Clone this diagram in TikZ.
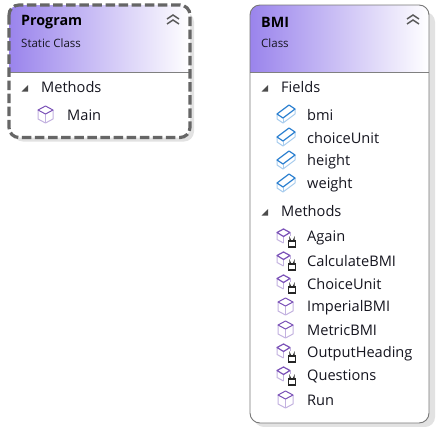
\documentclass[tikz,border=0pt]{standalone}
\usepackage{fontspec}
\setmainfont{Open Sans}
\definecolor{hdr}{HTML}{9A84EC}
\definecolor{txt}{HTML}{15151F}
\definecolor{bord}{HTML}{777777}
\definecolor{dashb}{HTML}{666666}
\definecolor{shad}{HTML}{E2E2E2}
\definecolor{mth}{HTML}{7B52B8}
\definecolor{mthl}{HTML}{C3B2E0}
\definecolor{fld}{HTML}{2A7FD0}
\definecolor{fldl}{HTML}{A9CDEE}
\tikzset{
  x=1pt,y=-1pt,
  title/.style={anchor=west,inner sep=0pt,font=\fontsize{14.3}{16}\selectfont\bfseries,text=black},
  subtitle/.style={anchor=west,inner sep=0pt,font=\fontsize{11.5}{14}\selectfont,text=txt},
  section/.style={anchor=west,inner sep=0pt,font=\fontsize{14.6}{16}\selectfont,text=txt},
  member/.style={anchor=west,inner sep=0pt,font=\fontsize{14.6}{16}\selectfont,text=txt},
  expander/.style={fill=black!70,draw=none},
  method/.pic={
    \draw[mthl,line width=1pt,line join=round] (-8,-5) -- (-8,4) -- (-.5,8) -- (7,4) -- (7,-5);
    \draw[mthl,line width=1pt] (-.5,-1) -- (-.5,8);
    \draw[mth,line width=1pt,line join=round] (-8,-5) -- (-.5,-9) -- (7,-5) -- (-.5,-1) -- cycle;
  },
  field/.pic={
    \draw[fldl,line width=1pt,line join=round] (-9,-1) -- (-9,4) -- (-3,8) -- (9,-1) -- (9,-6);
    \draw[fldl,line width=1pt] (-3,3) -- (-3,8);
    \draw[fld,line width=1.2pt,line join=round] (-9,-1) -- (3,-10) -- (9,-6) -- (-3,3) -- cycle;
  },
  privmethod/.pic={
    \draw[mthl,line width=1pt,line join=round] (-9,-5.5) -- (-9,1.5) -- (-2.5,5);
    \draw[mthl,line width=1pt] (-2.5,-1.5) -- (-2.5,5);
    \draw[mthl,line width=1pt] (4,-5.5) -- (4,-2);
    \draw[mth,line width=1.2pt,line join=round] (-9,-5.5) -- (-2.5,-9) -- (4,-5.5) -- (-2.5,-1.5) -- cycle;
    \draw[black!85,line width=1.1pt] (2.5,3) rectangle (9.5,9);
    \draw[black!85,line width=1.1pt] (4,3) -- (4,1) arc[start angle=180,end angle=0,radius=2] -- (8,3);
  },
  chev/.pic={
    \draw[black!65,line width=1.5pt] (-6,-1) -- (0,-5) -- (6,-1);
    \draw[black!65,line width=1.5pt] (-6,4) -- (0,0) -- (6,4);
  }
}
\newcommand{\Tri}[2]{\fill[expander] (#1+3,#2-2) -- (#1+3,#2+4.5) -- (#1-3.5,#2+4.5) -- cycle;}
\begin{document}
\begin{tikzpicture}
\useasboundingbox (0,0) rectangle (447,426);
\fill[white] (0,0) rectangle (447,426);
% Program
\fill[shad,rounded corners=10] (13,12) rectangle (194,141.5);
\fill[white,rounded corners=10] (9,5) rectangle (190,137.5);
\begin{scope}
\clip[rounded corners=10] (9,5) rectangle (190,137.5);
\shade[left color=hdr,right color=white] (9,5) rectangle (190,72);
\end{scope}
\draw[black!50,line width=.9pt] (10,72) -- (189,72);
\draw[dashb,line width=3.2pt,rounded corners=10,dash pattern=on 9.5pt off 3.6pt] (9,5) rectangle (190,137.5);
\node[title] (ptitle) at (21,22) {Program};
\node[subtitle] (psub) at (21,43) {Static Class};
\pic at (173,20) {chev};
\Tri{25}{87}
\node[section] (pmeth) at (41,87.3) {Methods};
\pic at (46,115) {method};
\node[member] (pmain) at (67,115.3) {Main};
% BMI
\fill[shad,rounded corners=10] (254,12) rectangle (435,427);
\fill[white,rounded corners=10] (250,5) rectangle (429,423);
\begin{scope}
\clip[rounded corners=10] (250,5) rectangle (429,423);
\shade[left color=hdr,right color=white] (250,5) rectangle (429,72);
\end{scope}
\draw[black!50,line width=.9pt] (250,72) -- (429,72);
\draw[bord,line width=.9pt,rounded corners=10] (250,5) rectangle (429,423);
\node[title] (btitle) at (261,22) {BMI};
\node[subtitle] (bsub) at (261,43) {Class};
\pic at (413,20) {chev};
\Tri{265}{87}
\node[section] (bfields) at (281,87.3) {Fields};
\pic at (286,115) {field};
\node[member] (f1) at (307,115.3) {bmi};
\pic at (286,138) {field};
\node[member] (f2) at (307,138.3) {choiceUnit};
\pic at (286,161) {field};
\node[member] (f3) at (307,161.3) {height};
\pic at (286,184) {field};
\node[member] (f4) at (307,184.3) {weight};
\Tri{265}{211}
\node[section] (bmeth) at (281,211.3) {Methods};
\pic at (286,238) {privmethod};
\node[member] (m1) at (307,238.3) {Again};
\pic at (286,261) {privmethod};
\node[member] (m2) at (307,261.3) {CalculateBMI};
\pic at (286,284) {privmethod};
\node[member] (m3) at (307,284.3) {ChoiceUnit};
\pic at (286,307) {method};
\node[member] (m4) at (307,307.3) {ImperialBMI};
\pic at (286,330) {method};
\node[member] (m5) at (307,330.3) {MetricBMI};
\pic at (286,353) {privmethod};
\node[member] (m6) at (307,353.3) {OutputHeading};
\pic at (286,376) {privmethod};
\node[member] (m7) at (307,376.3) {Questions};
\pic at (286,400) {method};
\node[member] (m8) at (307,400.3) {Run};
\end{tikzpicture}
\end{document}
